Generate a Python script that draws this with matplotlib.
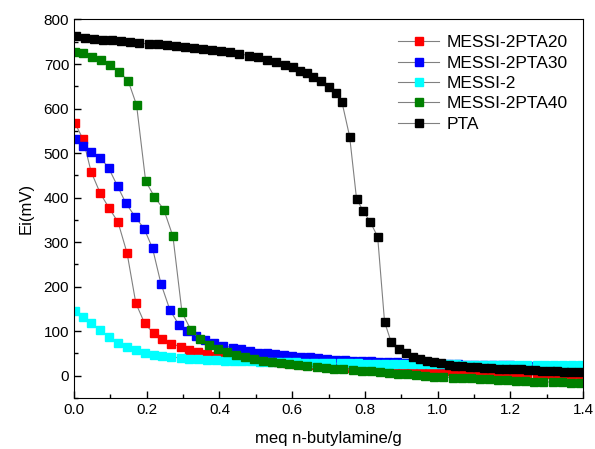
import matplotlib.pyplot as plt
from matplotlib.ticker import MultipleLocator

plt.rcParams['font.family'] = ['Liberation Sans', 'DejaVu Sans']

# Datos
x_pta20 = [0.002, 0.025, 0.047, 0.072, 0.096, 0.121, 0.146, 0.170, 0.194, 0.219,
           0.243, 0.268, 0.293, 0.317, 0.341, 0.365, 0.390, 0.414, 0.439, 0.463,
           0.488, 0.512, 0.537, 0.561, 0.586, 0.610, 0.635, 0.659, 0.684, 0.708,
           0.733, 0.757, 0.782, 0.806, 0.831, 0.855, 0.880, 0.904, 0.929, 0.953,
           0.978, 1.002, 1.027, 1.051, 1.076, 1.100, 1.125, 1.149, 1.174, 1.198,
           1.223, 1.247, 1.272, 1.296, 1.321, 1.345, 1.370, 1.394]
y_pta20 = [568, 531, 458, 410, 377, 345, 275, 163, 118, 95,
           82, 72, 65, 58, 53, 49, 45, 42, 40, 38,
           36, 34, 33, 31, 29, 27, 25, 24, 22, 21,
           19, 18, 17, 16, 15, 14, 13, 13, 12, 11,
           11, 10, 10, 9, 9, 8, 8, 7, 7, 7,
           6, 6, 6, 5, 5, 5, 4, 4]

x_pta30 = [0.002, 0.025, 0.048, 0.072, 0.095, 0.120, 0.143, 0.168, 0.193, 0.216,
           0.239, 0.264, 0.288, 0.312, 0.336, 0.361, 0.386, 0.411, 0.436, 0.460,
           0.484, 0.507, 0.530, 0.553, 0.577, 0.600, 0.624, 0.648, 0.672, 0.696,
           0.720, 0.744, 0.768, 0.792, 0.816, 0.840, 0.864, 0.888, 0.912, 0.936,
           0.960, 0.984, 1.008, 1.032, 1.056, 1.080, 1.104, 1.128, 1.152, 1.176,
           1.200, 1.224, 1.248, 1.272, 1.296, 1.320, 1.344, 1.368, 1.392]
y_pta30 = [531, 517, 503, 490, 467, 425, 387, 357, 330, 286,
           207, 147, 115, 100, 89, 80, 73, 67, 63, 59,
           55, 52, 50, 48, 46, 44, 42, 41, 39, 38,
           36, 35, 34, 33, 32, 31, 31, 30, 29, 29,
           28, 28, 27, 26, 26, 25, 25, 24, 24, 23,
           23, 22, 22, 21, 21, 20, 20, 19, 19]

x_messi = x_pta20
y_messi = [146, 133, 118, 103, 87, 74, 64, 58, 52, 47,
           45, 42, 40, 38, 37, 36, 35, 34, 33, 32,
           32, 31, 31, 30, 30, 30, 29, 29, 29, 28,
           28, 28, 28, 27, 27, 27, 27, 27, 26, 26,
           26, 26, 26, 26, 25, 25, 25, 25, 25, 25,
           24, 24, 24, 24, 24, 24, 24, 24]

x_pta40 = [0.002, 0.025, 0.050, 0.073, 0.099, 0.124, 0.149, 0.172, 0.197, 0.221,
           0.247, 0.272, 0.297, 0.322, 0.347, 0.372, 0.397, 0.422, 0.446, 0.470,
           0.495, 0.521, 0.544, 0.568, 0.592, 0.617, 0.642, 0.668, 0.692, 0.716,
           0.741, 0.766, 0.791, 0.816, 0.841, 0.866, 0.891, 0.916, 0.941, 0.966,
           0.991, 1.016, 1.041, 1.066, 1.091, 1.116, 1.141, 1.166, 1.191, 1.216,
           1.241, 1.266, 1.291, 1.316, 1.341, 1.366, 1.391]
y_pta40 = [728, 724, 716, 709, 698, 683, 662, 608, 437, 402,
           373, 313, 142, 102, 82, 69, 60, 53, 47, 43,
           37, 33, 30, 28, 26, 23, 22, 20, 18, 16,
           14, 13, 11, 10, 8, 6, 4, 3, 1, -1,
           -2, -3, -4, -5, -6, -7, -8, -9, -10, -11,
           -12, -13, -14, -14, -15, -16, -17]

x_pta = [0.005, 0.030, 0.055, 0.080, 0.105, 0.130, 0.155, 0.180, 0.205, 0.230,
         0.255, 0.280, 0.305, 0.330, 0.355, 0.380, 0.405, 0.430, 0.455, 0.480,
         0.505, 0.530, 0.555, 0.580, 0.602, 0.622, 0.640, 0.658, 0.679, 0.700,
         0.720, 0.737, 0.758, 0.777, 0.796, 0.815, 0.835, 0.854, 0.872, 0.894,
         0.913, 0.933, 0.952, 0.970, 0.990, 1.009, 1.030, 1.048, 1.068, 1.088,
         1.108, 1.128, 1.148, 1.168, 1.188, 1.208, 1.228, 1.248, 1.268, 1.288,
         1.308, 1.328, 1.348, 1.368, 1.388]
y_pta = [762, 759, 757, 755, 753, 751, 749, 747, 745, 744,
         742, 740, 738, 736, 734, 731, 729, 726, 723, 719,
         715, 710, 704, 698, 693, 685, 680, 671, 662, 649,
         635, 614, 537, 397, 369, 345, 312, 121, 76, 60,
         50, 43, 38, 33, 30, 28, 25, 22, 21, 20,
         19, 18, 17, 16, 15, 14, 14, 13, 12, 11,
         11, 10, 9, 8, 8]

series = [
    ('MESSI-2PTA20', x_pta20, y_pta20, '#ff0000'),
    ('MESSI-2PTA30', x_pta30, y_pta30, '#0000ff'),
    ('MESSI-2', x_messi, y_messi, '#00ffff'),
    ('MESSI-2PTA40', x_pta40, y_pta40, '#008000'),
    ('PTA', x_pta, y_pta, '#000000'),
]

fig = plt.figure(figsize=(5.95, 4.49), dpi=100)
ax = fig.add_axes([0.1244, 0.1136, 0.8556, 0.843])

for nombre, xs, ys, color in series:
    ax.plot(xs, ys, color='#808080', linewidth=0.8, marker='s', markersize=5.8,
            markerfacecolor=color, markeredgecolor=color, label=nombre)

ax.set_xlim(0, 1.4)
ax.set_ylim(-50, 800)
ax.xaxis.set_major_locator(MultipleLocator(0.2))
ax.xaxis.set_minor_locator(MultipleLocator(0.1))
ax.yaxis.set_major_locator(MultipleLocator(100))
ax.yaxis.set_minor_locator(MultipleLocator(50))
ax.tick_params(which='both', direction='in', top=False, right=False, labelsize=11)
ax.tick_params(which='major', length=5, width=1)
ax.tick_params(which='minor', length=3, width=1)
ax.xaxis.set_major_formatter(plt.FuncFormatter(lambda v, p: f'{v:.1f}'))

ax.set_xlabel('meq n-butylamine/g', fontsize=12, labelpad=10)
ax.set_ylabel('Ei(mV)', fontsize=12, labelpad=7)

ax.legend(loc='upper right', frameon=False, fontsize=12.5, handlelength=2.4,
          handletextpad=0.4, labelspacing=0.3, borderaxespad=0.5)

plt.savefig('out.png', dpi=100)
